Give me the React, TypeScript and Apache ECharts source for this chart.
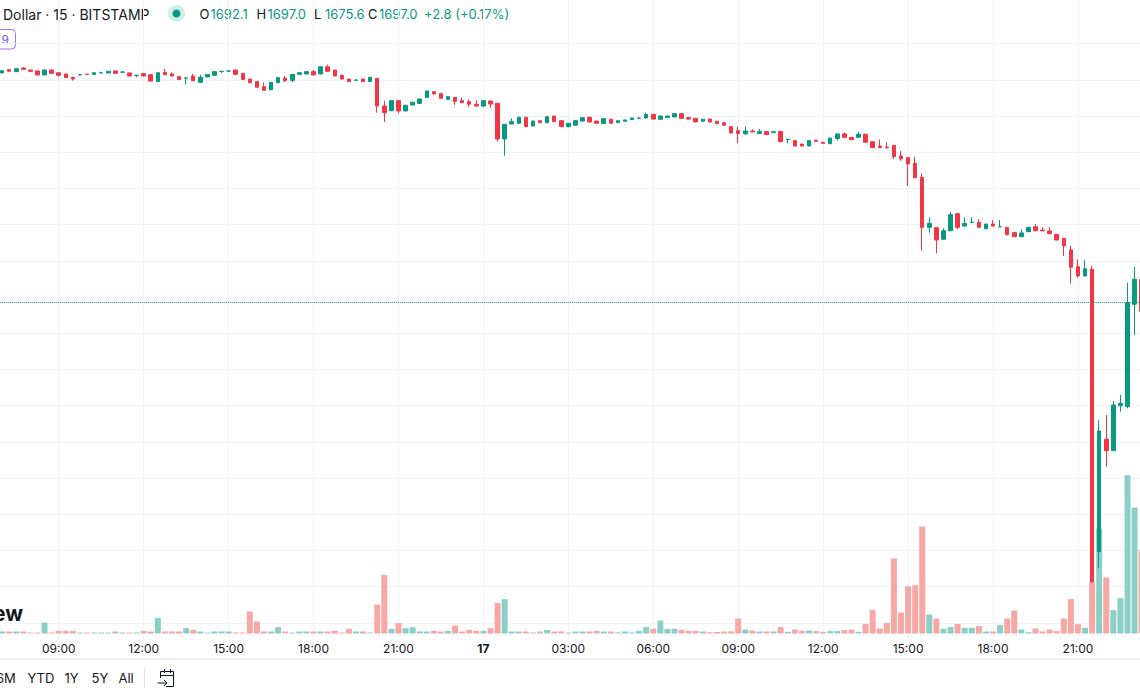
import React, { useEffect, useRef } from 'react';
import * as echarts from 'echarts';

// x value 0 = 06:00 on the 16th, one unit = one 15-minute slot
const START_DAY = 16;
const START_HOUR = 6;
const SLOTS_PER_HOUR = 4;
const FIRST_SLOT = 4; // first candle at 07:00

const opens = [
  1823.8, 1825.6, 1824.5, 1826.5, 1825.4, 1824.9, 1822.7, 1825.4, 1823.9, 1823.2,
  1821.4, 1822.7, 1823.1, 1823.0, 1823.8, 1823.8, 1824.9, 1824.2, 1823.8, 1822.4,
  1823.4, 1822.8, 1819.0, 1824.1, 1823.2, 1821.7, 1820.9, 1822.1, 1818.6, 1821.6,
  1822.5, 1824.6, 1824.8, 1825.4, 1823.6, 1820.4, 1819.0, 1816.2, 1814.5, 1818.4,
  1821.0, 1819.7, 1823.0, 1823.2, 1824.5, 1823.2, 1827.2, 1825.4, 1822.5, 1820.4,
  1819.8, 1820.4, 1819.0, 1820.8, 1805.5, 1802.9, 1808.5, 1802.8, 1806.1, 1807.0,
  1810.3, 1813.4, 1812.5, 1809.2, 1810.3, 1808.5, 1807.9, 1806.5, 1805.5, 1808.3,
  1807.0, 1787.3, 1795.6, 1796.0, 1799.3, 1794.5, 1797.4, 1796.3, 1800.0, 1797.4,
  1794.1, 1794.9, 1797.2, 1799.3, 1797.2, 1795.8, 1798.2, 1796.3, 1797.1, 1798.0,
  1798.8, 1798.9, 1800.9, 1798.2, 1799.1, 1799.5, 1801.3, 1799.1, 1798.7, 1797.1,
  1798.3, 1797.1, 1796.3, 1794.1, 1791.9, 1790.1, 1791.7, 1790.4, 1791.5, 1790.8,
  1791.5, 1787.0, 1786.4, 1784.5, 1783.4, 1786.6, 1785.5, 1784.7, 1787.5, 1790.1,
  1788.2, 1788.2, 1789.9, 1785.8, 1783.4, 1782.8, 1783.8, 1777.9, 1777.0, 1773.9,
  1766.1, 1738.5, 1738.3, 1731.9, 1736.6, 1746.0, 1739.2, 1741.2, 1741.3, 1737.7,
  1740.3, 1738.8, 1738.5, 1735.7, 1733.3, 1736.1, 1738.8, 1737.0, 1736.5, 1734.6,
  1732.4, 1726.0, 1716.7, 1711.6, 1715.3, 1559.3, 1621.4, 1615.1, 1639.9, 1639.4,
  1696.0, 1709.8,
];
const closes = [
  1825.0, 1824.7, 1826.1, 1825.8, 1824.7, 1822.7, 1825.4, 1823.6, 1822.5, 1821.2,
  1820.4, 1822.8, 1822.9, 1823.9, 1823.9, 1824.7, 1823.6, 1824.3, 1822.1, 1822.5,
  1822.1, 1819.3, 1823.9, 1822.8, 1822.1, 1820.1, 1821.0, 1819.5, 1821.4, 1823.0,
  1824.5, 1824.7, 1824.9, 1823.0, 1820.1, 1818.4, 1815.9, 1814.2, 1818.6, 1821.2,
  1819.5, 1823.0, 1823.9, 1824.5, 1822.7, 1827.2, 1824.7, 1822.1, 1820.4, 1819.0,
  1819.9, 1819.0, 1821.4, 1805.5, 1801.8, 1808.5, 1802.8, 1805.9, 1807.6, 1809.4,
  1813.8, 1812.2, 1809.8, 1810.7, 1808.1, 1807.4, 1806.5, 1805.5, 1808.5, 1806.6,
  1787.3, 1795.4, 1796.9, 1799.3, 1794.1, 1797.2, 1796.3, 1799.6, 1796.9, 1794.1,
  1796.0, 1797.4, 1799.1, 1796.7, 1796.0, 1798.5, 1796.0, 1797.4, 1797.8, 1798.9,
  1798.9, 1800.9, 1798.3, 1800.0, 1800.0, 1801.3, 1798.7, 1798.3, 1796.7, 1798.2,
  1796.7, 1795.8, 1794.9, 1790.6, 1790.4, 1791.7, 1791.2, 1791.5, 1789.7, 1791.3,
  1785.8, 1787.1, 1783.4, 1783.4, 1786.4, 1786.0, 1784.9, 1787.8, 1790.1, 1788.2,
  1786.9, 1789.9, 1785.5, 1782.5, 1782.5, 1782.6, 1777.5, 1776.4, 1773.5, 1765.9,
  1738.5, 1740.7, 1731.5, 1736.6, 1745.5, 1738.5, 1740.7, 1741.3, 1738.5, 1740.3,
  1739.2, 1738.9, 1734.4, 1733.3, 1735.4, 1738.5, 1736.6, 1736.6, 1735.0, 1731.5,
  1728.3, 1716.4, 1711.6, 1715.6, 1542.7, 1626.0, 1615.1, 1640.3, 1641.3, 1696.9,
  1709.8, 1692.1,
];
const lows = [
  1823.5, 1824.5, 1824.3, 1825.6, 1824.5, 1822.5, 1822.5, 1823.4, 1821.7, 1821.0,
  1819.5, 1822.5, 1822.7, 1822.8, 1823.6, 1823.6, 1823.4, 1824.0, 1821.9, 1821.4,
  1821.9, 1819.1, 1818.8, 1822.6, 1821.9, 1819.9, 1817.5, 1819.3, 1818.4, 1821.4,
  1822.3, 1823.6, 1824.5, 1822.8, 1819.9, 1818.2, 1815.7, 1814.0, 1814.3, 1818.2,
  1818.8, 1818.6, 1822.8, 1823.0, 1822.5, 1823.0, 1824.5, 1821.9, 1820.2, 1818.8,
  1819.6, 1818.8, 1818.8, 1801.8, 1796.7, 1802.7, 1801.5, 1802.6, 1805.9, 1806.8,
  1810.1, 1812.0, 1809.6, 1809.0, 1806.1, 1807.2, 1805.1, 1805.3, 1804.8, 1804.6,
  1785.8, 1778.1, 1795.4, 1795.8, 1793.9, 1794.3, 1796.1, 1796.1, 1796.7, 1793.9,
  1793.9, 1794.7, 1797.0, 1796.5, 1795.8, 1795.6, 1795.8, 1796.1, 1796.9, 1797.8,
  1798.6, 1798.7, 1798.1, 1798.0, 1798.9, 1799.3, 1798.5, 1798.1, 1796.5, 1796.9,
  1796.5, 1795.6, 1794.7, 1790.4, 1784.9, 1789.9, 1791.0, 1790.2, 1789.5, 1790.6,
  1785.6, 1784.9, 1783.2, 1783.2, 1783.2, 1785.8, 1784.7, 1784.5, 1786.4, 1788.0,
  1786.7, 1788.0, 1785.3, 1782.3, 1782.3, 1781.8, 1776.1, 1775.3, 1761.3, 1765.7,
  1725.6, 1735.5, 1724.1, 1731.7, 1736.4, 1737.4, 1739.0, 1741.0, 1738.3, 1737.5,
  1739.0, 1738.6, 1734.2, 1733.1, 1733.1, 1735.9, 1736.4, 1736.4, 1734.8, 1731.3,
  1722.7, 1707.5, 1710.7, 1711.4, 1542.0, 1550.1, 1606.2, 1614.9, 1636.6, 1638.5,
  1679.0, 1690.0,
];
const highs = [
  1825.3, 1825.8, 1826.3, 1826.9, 1825.6, 1825.0, 1825.6, 1825.6, 1824.0, 1823.4,
  1821.6, 1823.0, 1823.3, 1824.1, 1824.1, 1824.9, 1825.0, 1824.9, 1824.0, 1822.7,
  1823.6, 1823.0, 1824.1, 1826.1, 1824.1, 1821.9, 1821.2, 1823.2, 1822.8, 1823.2,
  1824.7, 1824.8, 1825.2, 1825.6, 1823.8, 1820.6, 1819.2, 1818.6, 1818.8, 1821.4,
  1822.1, 1823.2, 1824.1, 1824.7, 1825.4, 1827.4, 1828.4, 1825.6, 1822.7, 1820.6,
  1820.1, 1820.6, 1821.6, 1821.0, 1808.5, 1808.7, 1808.7, 1806.1, 1807.8, 1809.6,
  1814.0, 1813.6, 1812.7, 1810.9, 1810.5, 1810.0, 1809.2, 1808.8, 1808.7, 1808.5,
  1807.2, 1795.6, 1798.7, 1799.5, 1799.5, 1797.4, 1797.6, 1799.8, 1800.2, 1797.6,
  1796.2, 1797.6, 1799.3, 1799.5, 1797.4, 1798.7, 1798.4, 1797.6, 1798.0, 1799.1,
  1799.1, 1801.8, 1801.1, 1800.2, 1800.2, 1801.5, 1801.5, 1799.3, 1798.9, 1798.4,
  1798.5, 1797.3, 1796.5, 1794.3, 1794.1, 1794.1, 1792.6, 1792.8, 1791.7, 1791.5,
  1791.7, 1787.6, 1786.6, 1784.7, 1786.6, 1786.8, 1785.7, 1788.0, 1790.3, 1791.0,
  1788.4, 1791.3, 1790.1, 1786.0, 1787.1, 1785.5, 1784.0, 1780.7, 1777.2, 1777.5,
  1768.3, 1744.0, 1738.5, 1737.9, 1747.1, 1746.2, 1744.0, 1744.0, 1742.9, 1740.5,
  1742.5, 1742.5, 1738.7, 1735.9, 1737.4, 1738.7, 1740.3, 1738.5, 1738.5, 1734.8,
  1732.6, 1728.2, 1720.8, 1720.4, 1717.1, 1632.0, 1634.8, 1642.5, 1645.9, 1707.9,
  1716.7, 1711.0,
];
const volumes = [
  24, 24, 24, 24, 12, 12, 132, 12, 32, 32,
  32, 12, 12, 12, 12, 12, 24, 12, 12, 12,
  32, 24, 188, 24, 24, 24, 64, 44, 24, 12,
  24, 24, 24, 12, 12, 264, 144, 24, 24, 76,
  24, 12, 24, 24, 24, 24, 24, 32, 12, 56,
  24, 24, 12, 348, 704, 56, 124, 64, 76, 24,
  24, 32, 24, 32, 96, 24, 44, 32, 32, 64,
  368, 412, 24, 24, 24, 12, 24, 44, 24, 24,
  12, 24, 24, 24, 32, 24, 24, 12, 24, 12,
  32, 76, 56, 156, 56, 56, 44, 32, 32, 24,
  16, 18, 24, 26, 180, 48, 36, 24, 24, 24,
  77, 20, 48, 32, 36, 29, 20, 29, 29, 41,
  48, 20, 114, 283, 61, 126, 900, 252, 568, 580,
  1284, 228, 180, 56, 77, 114, 68, 68, 89, 24,
  24, 101, 180, 276, 48, 16, 61, 24, 48, 28,
  180, 412, 112, 68, 620, 1260, 672, 280, 424, 1900,
  1512, 1008,
];

const LAST_PRICE = 1697.0;
const PRICE_MIN = 1520;
const PRICE_MAX = 1860;
const PRICE_STEP = 20;
const VOLUME_MAX = 2400;
const X_MIN = 0;
const X_MAX = 168;
const X_STEP = 12;

const HEADER_SYMBOL = 'Dollar · 15 · BITSTAMP';
const HEADER_OHLC: [string, string, number][] = [
  ['O', '1692.1', 199.5],
  ['H', '1697.0', 256.5],
  ['L', '1675.6', 314],
  ['C', '1697.0', 368],
];
const HEADER_CHANGE = '+2.8 (+0.17%)';
const RANGE_BUTTONS: [string, number][] = [
  ['6M', -4],
  ['YTD', 27.5],
  ['1Y', 64.5],
  ['5Y', 91.5],
  ['All', 118.5],
];

const UP = '#089981';
const DOWN = '#F23645';
const VOL_UP = '#8ccfc7';
const VOL_DOWN = '#f7a8a5';
const GRID = '#f0f3fa';
const TEXT = '#131722';
const FONT = 'Inter, "Noto Sans", sans-serif';

// page layout
const SHIFT = 30; // chart div starts 30px left of the page
const STEP = 7.078;
const PAGE_X0 = 2.1 - FIRST_SLOT * STEP; // page x of x-value 0
const GRID_LEFT = PAGE_X0 + SHIFT;
const GRID_WIDTH = (X_MAX - X_MIN) * STEP;
const px = (x: number) => x + SHIFT;

const timeLabel = (v: number) => {
  const total = START_HOUR + v / SLOTS_PER_HOUR;
  const h = ((total % 24) + 24) % 24;
  if (h === 0) return `{d|${START_DAY + Math.floor(total / 24)}}`;
  return `${String(h).padStart(2, '0')}:00`;
};

export default function App() {
  const ref = useRef<HTMLDivElement>(null);

  useEffect(() => {
    if (!ref.current) return;
    const chart = echarts.init(ref.current, undefined, { renderer: 'svg' });

    const candleData = opens.map((o, i) => [i + FIRST_SLOT, o, closes[i], lows[i], highs[i]]);
    const volumeData = volumes.map((v, i) => ({
      value: [i + FIRST_SLOT, v],
      itemStyle: { color: closes[i] >= opens[i] ? VOL_UP : VOL_DOWN },
    }));

    const hiddenX = (gridIndex: number) => ({
      type: 'value' as const,
      gridIndex,
      min: X_MIN,
      max: X_MAX,
      interval: X_STEP,
      show: false,
    });

    const graphics: any[] = [
      {
        type: 'text',
        x: px(3),
        y: 14,
        style: { text: HEADER_SYMBOL, fill: TEXT, font: `400 14px ${FONT}`, verticalAlign: 'middle', align: 'left' },
      },
      { type: 'circle', shape: { cx: px(176.5), cy: 13.5, r: 8.5 }, style: { fill: '#d3eee8' } },
      { type: 'circle', shape: { cx: px(176.5), cy: 13.5, r: 4 }, style: { fill: UP } },
      ...HEADER_OHLC.flatMap(([k, val, x]) => [
        { type: 'text', x: px(x), y: 14, style: { text: k, fill: TEXT, font: `400 13px ${FONT}`, verticalAlign: 'middle' } },
        { type: 'text', x: px(x + 11), y: 14, style: { text: val, fill: UP, font: `400 13px ${FONT}`, verticalAlign: 'middle' } },
      ]),
      { type: 'text', x: px(424), y: 14, style: { text: HEADER_CHANGE, fill: UP, font: `400 13px ${FONT}`, verticalAlign: 'middle' } },
      {
        type: 'rect',
        shape: { x: px(-10), y: 29.5, width: 25.5, height: 19.5, r: 4 },
        style: { fill: 'none', stroke: '#a374f5', lineWidth: 1 },
      },
      { type: 'text', x: px(1.5), y: 39.5, style: { text: '9', fill: '#8a4fe8', font: `400 12px ${FONT}`, verticalAlign: 'middle' } },
      {
        type: 'text',
        x: px(23),
        y: 613.5,
        z: 0,
        style: { text: 'TradingView', fill: TEXT, font: `700 21px ${FONT}`, align: 'right', verticalAlign: 'middle' },
      },
      { type: 'line', shape: { x1: px(0), y1: 659, x2: px(1140), y2: 659 }, style: { stroke: '#e0e3eb', lineWidth: 1 } },
      ...RANGE_BUTTONS.map(([t, x]) => ({
        type: 'text',
        x: px(x),
        y: 678,
        style: { text: t, fill: TEXT, font: `400 13px ${FONT}`, verticalAlign: 'middle' },
      })),
      { type: 'line', shape: { x1: px(144.5), y1: 668, x2: px(144.5), y2: 688 }, style: { stroke: '#e0e3eb', lineWidth: 1 } },
      {
        type: 'polyline',
        shape: { points: [[px(160.5), 678], [px(160.5), 671.5], [px(173.5), 671.5], [px(173.5), 686.5], [px(166), 686.5]] },
        style: { stroke: TEXT, lineWidth: 1, fill: 'none' },
      },
      { type: 'line', shape: { x1: px(160.5), y1: 675.5, x2: px(173.5), y2: 675.5 }, style: { stroke: TEXT, lineWidth: 1 } },
      { type: 'line', shape: { x1: px(164.5), y1: 669, x2: px(164.5), y2: 673 }, style: { stroke: TEXT, lineWidth: 1 } },
      { type: 'line', shape: { x1: px(170.5), y1: 669, x2: px(170.5), y2: 673 }, style: { stroke: TEXT, lineWidth: 1 } },
      { type: 'line', shape: { x1: px(157.5), y1: 683, x2: px(167), y2: 683 }, style: { stroke: TEXT, lineWidth: 1 } },
      {
        type: 'polyline',
        shape: { points: [[px(164), 680], [px(167), 683], [px(164), 686]] },
        style: { stroke: TEXT, lineWidth: 1, fill: 'none' },
      },
    ];

    chart.setOption({
      animation: false,
      backgroundColor: '#ffffff',
      textStyle: { fontFamily: FONT },
      grid: [
        { left: GRID_LEFT, width: GRID_WIDTH, top: 0, height: 640 },
        { left: GRID_LEFT, width: GRID_WIDTH, top: 7.4, height: 615.4 },
        { left: GRID_LEFT, width: GRID_WIDTH, top: 433.5, height: 200 },
      ],
      xAxis: [
        {
          type: 'value',
          gridIndex: 0,
          min: X_MIN,
          max: X_MAX,
          interval: X_STEP,
          axisLine: { show: false },
          axisTick: { show: false },
          splitLine: { show: true, lineStyle: { color: GRID, width: 1 } },
          axisLabel: {
            show: true,
            showMinLabel: false,
            showMaxLabel: false,
            margin: 2,
            color: TEXT,
            fontSize: 12,
            fontFamily: FONT,
            formatter: timeLabel,
            rich: { d: { fontWeight: 'bold', fontSize: 12, color: TEXT, fontFamily: FONT } },
          },
        },
        hiddenX(1),
        hiddenX(2),
      ],
      yAxis: [
        { type: 'value', gridIndex: 0, min: 0, max: 1, show: false },
        {
          type: 'value',
          gridIndex: 1,
          min: PRICE_MIN,
          max: PRICE_MAX,
          interval: PRICE_STEP,
          position: 'right',
          axisLine: { show: false },
          axisTick: { show: false },
          axisLabel: { show: false },
          splitLine: { show: true, showMaxLine: false, lineStyle: { color: GRID, width: 1 } },
        },
        { type: 'value', gridIndex: 2, min: 0, max: VOLUME_MAX, show: false },
      ],
      graphic: graphics,
      series: [
        {
          type: 'bar',
          xAxisIndex: 2,
          yAxisIndex: 2,
          barWidth: 6,
          z: 2,
          data: volumeData,
        },
        {
          type: 'candlestick',
          xAxisIndex: 1,
          yAxisIndex: 1,
          barWidth: 4,
          z: 3,
          itemStyle: {
            color: UP,
            color0: DOWN,
            borderColor: UP,
            borderColor0: DOWN,
            borderWidth: 1,
          },
          data: candleData,
          markLine: {
            silent: true,
            symbol: ['none', 'none'],
            label: { show: false },
            lineStyle: { color: UP, type: 'dotted', width: 1 },
            data: [{ yAxis: LAST_PRICE }],
          },
        },
      ],
    });

    return () => chart.dispose();
  }, []);

  return (
    <div
      style={{
        position: 'fixed',
        left: 0,
        top: 0,
        width: 1140,
        height: 694,
        overflow: 'hidden',
        background: '#ffffff',
      }}
    >
      <div
        ref={ref}
        style={{ position: 'absolute', left: -SHIFT, top: 0, width: 1200, height: 694 }}
      />
    </div>
  );
}
